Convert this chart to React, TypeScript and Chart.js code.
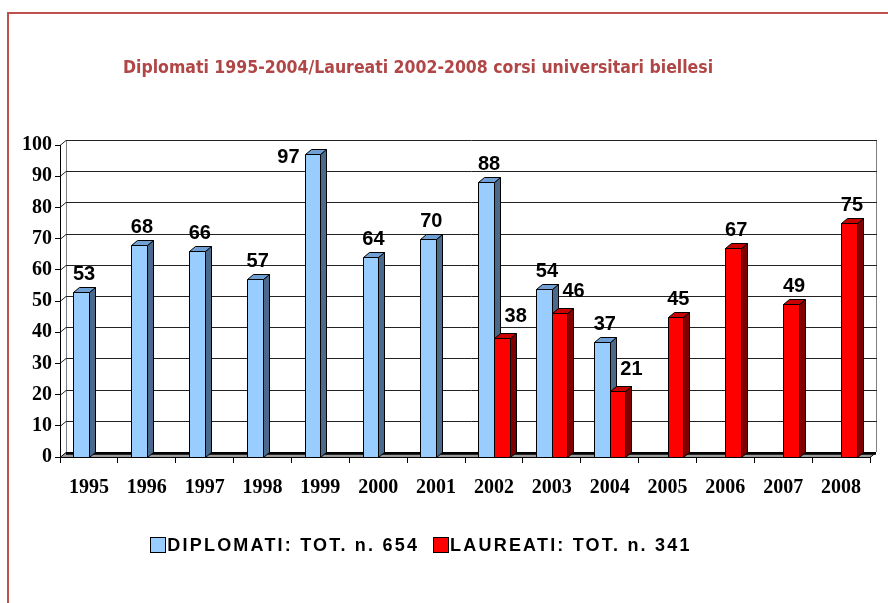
import React, { useEffect, useRef } from 'react';
import { Chart, registerables } from 'chart.js';

Chart.register(...registerables);

const years = ['1995', '1996', '1997', '1998', '1999', '2000', '2001', '2002', '2003', '2004', '2005', '2006', '2007', '2008'];
const diplomati: (number | null)[] = [53, 68, 66, 57, 97, 64, 70, 88, 54, 37, null, null, null, null];
const laureati: (number | null)[] = [null, null, null, null, null, null, null, 38, 46, 21, 45, 67, 49, 75];
const yMin = 0;
const yMax = 100;
const yStep = 10;

const titleText = 'Diplomati 1995-2004/Laureati 2002-2008 corsi universitari biellesi';
const legendLabels = ['DIPLOMATI: TOT. n. 654', 'LAUREATI: TOT. n. 341'];

const faceColors = ['#99ccff', '#ff0000'];
const topColors = ['#6f9fd3', '#c80000'];
const sideColors = ['#4b6a8b', '#800000'];
const DX = 6;
const DY = -5;

function poly(ctx: CanvasRenderingContext2D, pts: number[][], fill: string) {
  ctx.beginPath();
  ctx.moveTo(pts[0][0], pts[0][1]);
  for (let i = 1; i < pts.length; i++) ctx.lineTo(pts[i][0], pts[i][1]);
  ctx.closePath();
  ctx.fillStyle = fill;
  ctx.fill();
  ctx.strokeStyle = '#000';
  ctx.lineWidth = 1;
  ctx.stroke();
}

const threeD = {
  id: 'threeD',
  beforeDraw(chart: any) {
    const { ctx, chartArea: a } = chart;
    const y = chart.scales.y;
    ctx.save();
    ctx.fillStyle = '#fff';
    ctx.fillRect(0, 0, chart.width, chart.height);
    // frame
    ctx.strokeStyle = '#c0504d';
    ctx.lineWidth = 2;
    ctx.beginPath();
    ctx.moveTo(8, chart.height + 4);
    ctx.lineTo(8, 13);
    ctx.lineTo(chart.width + 4, 13);
    ctx.stroke();
    // title
    ctx.font = 'bold 17.5px "DejaVu Sans Condensed"';
    ctx.fillStyle = '#b04646';
    ctx.textAlign = 'center';
    ctx.textBaseline = 'middle';
    ctx.fillText(titleText, 418, 68);

    const base = Math.round(y.getPixelForValue(0));
    // back wall verticals
    ctx.strokeStyle = '#808080';
    ctx.lineWidth = 1;
    const topB = Math.round(y.getPixelForValue(yMax)) + DY;
    ctx.beginPath();
    ctx.moveTo(a.left + DX + 0.5, topB);
    ctx.lineTo(a.left + DX + 0.5, base + DY);
    ctx.moveTo(a.right + DX + 0.5, topB);
    ctx.lineTo(a.right + DX + 0.5, base + DY);
    ctx.stroke();
    // gridlines on back wall + left wall diagonals
    ctx.strokeStyle = '#222';
    for (let v = yMin + yStep; v <= yMax; v += yStep) {
      const py = Math.round(y.getPixelForValue(v)) + DY + 0.5;
      ctx.beginPath();
      ctx.moveTo(a.left + DX, py);
      ctx.lineTo(a.right + DX + 1, py);
      ctx.stroke();
      ctx.beginPath();
      ctx.moveTo(a.left, py - DY);
      ctx.lineTo(a.left + DX, py);
      ctx.stroke();
    }
    // floor
    ctx.beginPath();
    ctx.moveTo(a.left, base + 0.5);
    ctx.lineTo(a.left + DX, base + DY + 0.5);
    ctx.lineTo(a.right + DX, base + DY + 0.5);
    ctx.lineTo(a.right, base + 0.5);
    ctx.closePath();
    ctx.fillStyle = '#9a9a9a';
    ctx.fill();
    ctx.strokeStyle = '#000';
    ctx.stroke();
    ctx.lineWidth = 2.5;
    ctx.beginPath();
    ctx.moveTo(a.left + DX, base + DY + 1.5);
    ctx.lineTo(a.right + DX, base + DY + 1.5);
    ctx.stroke();
    ctx.restore();
  },
  beforeDatasetDraw() {
    return false;
  },
  afterDatasetsDraw(chart: any) {
    const { ctx, chartArea: a } = chart;
    ctx.save();
    const labels: any[] = [];
    for (let i = 0; i < years.length; i++) {
      for (let d = 0; d < chart.data.datasets.length; d++) {
        const val = chart.data.datasets[d].data[i];
        if (val == null) continue;
        const el = chart.getDatasetMeta(d).data[i];
        const p = el.getProps(['x', 'y', 'base', 'width'], true);
        const l = Math.round(p.x - p.width / 2) + 0.5;
        const r = Math.round(p.x + p.width / 2) + 0.5;
        const t = Math.round(p.y) + 0.5;
        const b = Math.round(p.base) + 0.5;
        poly(ctx, [[r, t], [r + DX, t + DY], [r + DX, b + DY], [r, b]], sideColors[d]);
        poly(ctx, [[l, t], [l + DX, t + DY], [r + DX, t + DY], [r, t]], topColors[d]);
        poly(ctx, [[l, t], [r, t], [r, b], [l, b]], faceColors[d]);
        // neighbour bar in the same category, drawn just before this one
        const hasLeftNeighbour = d > 0 && chart.data.datasets[d - 1].data[i] != null;
        labels.push({ val, x: p.x, l, t, hasLeftNeighbour });
      }
    }
    ctx.font = 'bold 20px "Liberation Sans", Arial';
    ctx.fillStyle = '#000';
    ctx.textBaseline = 'middle';
    labels.forEach((lb) => {
      let lx = lb.x + 3;
      let ly = lb.t - 18;
      ctx.textAlign = 'center';
      if (lb.hasLeftNeighbour) {
        lx += 11;
        ly -= 4;
      }
      if (ly - 9 < a.top - 5) {
        ctx.textAlign = 'right';
        lx = lb.l - 6;
        ly = lb.t + 3;
      }
      ctx.fillText(String(lb.val), lx, ly);
    });
    ctx.restore();
  },
  afterDraw(chart: any) {
    const { ctx } = chart;
    ctx.save();
    ctx.font = 'bold 18px "Liberation Sans", Arial';
    (ctx as any).letterSpacing = '2.2px';
    ctx.textBaseline = 'middle';
    ctx.textAlign = 'left';
    const box = 15;
    const gap = 2;
    const itemGap = 14;
    const widths = legendLabels.map((s) => ctx.measureText(s).width);
    const total = widths.reduce((s, w) => s + w + box + gap, 0) + itemGap;
    let x = 421 - total / 2;
    const cy = 545;
    chart.data.datasets.forEach((ds: any, i: number) => {
      ctx.fillStyle = faceColors[i];
      ctx.fillRect(Math.round(x) + 0.5, cy - 7.5, box, box);
      ctx.strokeStyle = '#000';
      ctx.lineWidth = 1;
      ctx.strokeRect(Math.round(x) + 0.5, cy - 7.5, box, box);
      ctx.fillStyle = '#000';
      ctx.fillText(legendLabels[i], x + box + gap, cy + 1);
      x += box + gap + widths[i] + itemGap;
    });
    ctx.restore();
  },
};

export default function App() {
  const ref = useRef<HTMLCanvasElement | null>(null);
  useEffect(() => {
    if (!ref.current) return;
    const chart = new Chart(ref.current, {
      type: 'bar',
      data: {
        labels: years,
        datasets: [
          { label: legendLabels[0], data: diplomati, backgroundColor: faceColors[0], categoryPercentage: 0.54, barPercentage: 1 },
          { label: legendLabels[1], data: laureati, backgroundColor: faceColors[1], categoryPercentage: 0.54, barPercentage: 1 },
        ],
      },
      options: {
        responsive: false,
        animation: false,
        devicePixelRatio: 1,
        layout: { padding: { left: 0, right: 18, top: 145, bottom: 0 } },
        plugins: { legend: { display: false }, title: { display: false }, tooltip: { enabled: false } },
        scales: {
          x: {
            type: 'category',
            offset: true,
            grid: { offset: true, drawOnChartArea: false, drawTicks: true, tickLength: 6, color: '#000' },
            border: { display: true, color: '#000', width: 1 },
            ticks: { color: '#000', padding: 13, font: { family: '"Liberation Serif", "Times New Roman"', size: 20, weight: 'bold' } },
            afterFit: (s: any) => { s.height = 146; },
          },
          y: {
            min: yMin,
            max: yMax,
            ticks: { stepSize: yStep, color: '#000', padding: 3, font: { family: '"Liberation Serif", "Times New Roman"', size: 20, weight: 'bold' } },
            grid: { drawOnChartArea: false, drawTicks: true, tickLength: 5, color: '#000' },
            border: { display: true, color: '#000', width: 1 },
            afterFit: (s: any) => { s.width = 60; },
          },
        },
      },
      plugins: [threeD],
    } as any);
    return () => chart.destroy();
  }, []);
  return (
    <div style={{ position: 'absolute', left: 0, top: 0, width: 888, height: 603 }}>
      <canvas ref={ref} width={888} height={603} style={{ display: 'block' }} />
    </div>
  );
}
